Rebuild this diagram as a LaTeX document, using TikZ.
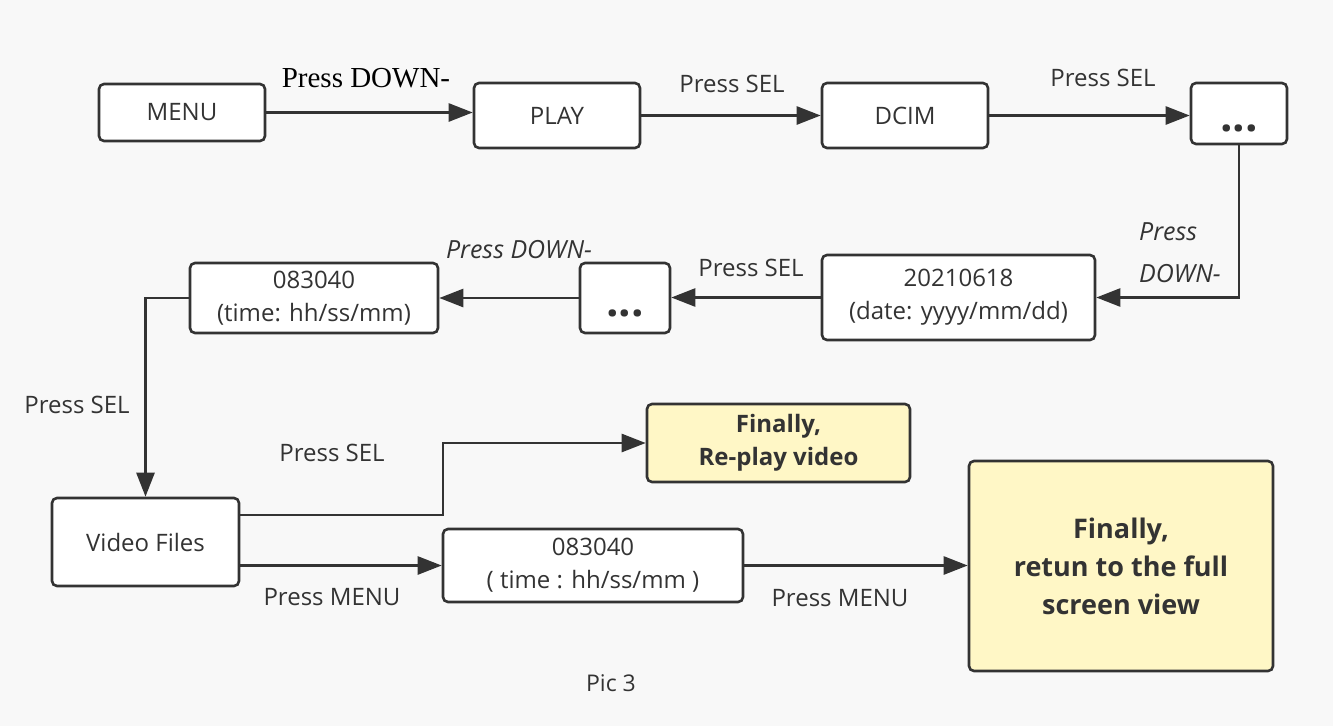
\documentclass[tikz,border=0pt]{standalone}
\usepackage{fontspec}
\setmainfont{Open Sans}
\newfontfamily\tms{Liberation Serif}
\usetikzlibrary{arrows.meta,calc}
\definecolor{bgc}{HTML}{F8F8F8}
\definecolor{linec}{HTML}{333333}
\definecolor{textc}{HTML}{333333}
\definecolor{yelc}{HTML}{FFF7C6}
\tikzset{
  box/.style={draw=linec, line width=2.6pt, rounded corners=5pt, fill=white, text=textc,
    font=\fontsize{24}{33}\selectfont, align=center, inner sep=0pt},
  dotsbox/.style={box, font=\fontsize{44}{44}\selectfont\bfseries, text height=36pt, text depth=0pt},
  finalbox/.style={box, fill=yelc},
  arr/.style={draw=linec, line width=2.6pt, -{Triangle[length=24pt,width=18pt]}},
  lbl/.style={text=textc, font=\fontsize{24}{29}\selectfont, inner sep=0pt},
  ilbl/.style={text=textc, font=\fontsize{25}{29}\selectfont\itshape, inner sep=0pt},
}
\begin{document}
\begin{tikzpicture}[x=1pt,y=-1pt]
\fill[bgc] (0,0) rectangle (1333,726);
\useasboundingbox (0,0) rectangle (1333,726);
% nodes
\node[box, minimum width=166pt, minimum height=57pt] (menu) at (182,112.5) {MENU};
\node[box, minimum width=166pt, minimum height=65pt] (play) at (557,115.5) {PLAY};
\node[box, minimum width=166pt, minimum height=65pt] (dcim) at (905,115.5) {DCIM};
\node[dotsbox, minimum width=96pt, minimum height=61pt] (dotsa) at (1239,113.5) {...};
\node[box, minimum width=273pt, minimum height=85pt] (date) at (958.5,297.5) {20210618\\(date: yyyy/mm/dd)};
\node[dotsbox, minimum width=90pt, minimum height=70pt] (dotsb) at (625,298) {...};
\node[box, minimum width=248pt, minimum height=70pt] (timea) at (314,298) {083040\\(time: hh/ss/mm)};
\node[box, minimum width=187pt, minimum height=88pt] (video) at (145.5,542) {Video Files};
\node[finalbox, minimum width=263pt, minimum height=78pt, font=\fontsize{24}{33}\selectfont\bfseries] (replay) at (778.5,443) {Finally,\\Re-play video};
\node[box, minimum width=300pt, minimum height=73pt] (timeb) at (593,565.5) {083040\\( time : hh/ss/mm )};
\node[finalbox, minimum width=304pt, minimum height=210pt, font=\fontsize{27}{38}\selectfont\bfseries] (full) at (1121,566) {Finally,\\retun to the full\\screen view};
% connectors
\draw[arr] (menu.east) -- (menu.east -| play.west);
\draw[arr] (play.east) -- (dcim.west);
\draw[arr] (dcim.east) -- (dcim.east -| dotsa.west);
\draw[arr] (dotsa.south) |- (date.east);
\draw[arr] (date.west) -- (date.west -| dotsb.east);
\draw[arr] (dotsb.west) -- (dotsb.west -| timea.east);
\draw[arr] (timea.west) -| (video.north);
\coordinate (bend) at (443,515);
\draw[arr] (bend -| video.east) -- (bend) |- (replay.west);
\draw[arr] (timeb.west -| video.east) -- (timeb.west);
\draw[arr] (timeb.east) -- (timeb.east -| full.west);
% labels
\node[text=black, font=\fontsize{29}{33}\selectfont\tms, inner sep=0pt] (l1) at (366,78) {Press DOWN-};
\node[lbl] (l2) at (732,84) {Press SEL};
\node[lbl] (l3) at (1103,78) {Press SEL};
\node[ilbl, anchor=west] (l4) at (1139,232) {Press};
\node[ilbl, anchor=west] (l5) at (1139,274) {DOWN-};
\node[ilbl] (l6) at (519,250) {Press DOWN-};
\node[lbl] (l7) at (751,268) {Press SEL};
\node[lbl] (l8) at (77,405) {Press SEL};
\node[lbl] (l9) at (332,453) {Press SEL};
\node[lbl] (l10) at (332,597) {Press MENU};
\node[lbl] (l11) at (840,598) {Press MENU};
\node[lbl, font=\fontsize{23}{28}\selectfont] (pic) at (611,683) {Pic 3};
\end{tikzpicture}
\end{document}
